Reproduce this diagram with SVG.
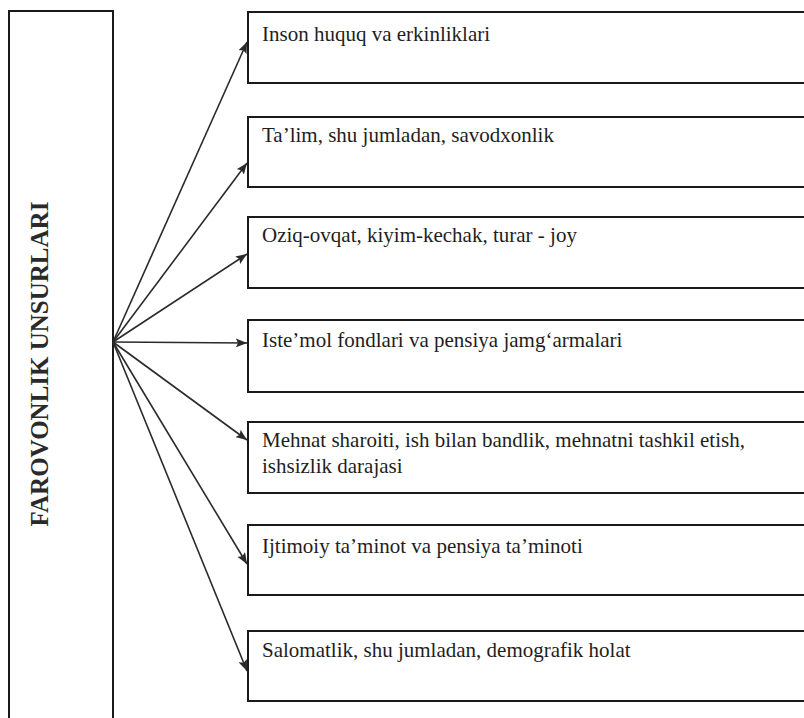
<svg xmlns="http://www.w3.org/2000/svg" width="804" height="718" viewBox="0 0 804 718">
  <defs>
    <style>
      .box { fill: #ffffff; stroke: #1a1a1a; stroke-width: 2; }
      .lbl { font-family: "Liberation Serif", "Times New Roman", serif; font-size: 21px; fill: #1e1e1e; }
      .title { font-family: "Liberation Serif", "Times New Roman", serif; font-size: 25px; font-weight: bold; fill: #2a2a2a; }
      .conn { stroke: #2a2a2a; stroke-width: 1.6; fill: none; marker-end: url(#arr); }
    </style>
    <marker id="arr" viewBox="0 0 10 8" refX="10" refY="4" markerWidth="7" markerHeight="5.6" orient="auto" markerUnits="strokeWidth">
      <path d="M0,0 L10,4 L0,8 L2,4 Z" fill="#2a2a2a"/>
    </marker>
  </defs>
  <rect width="804" height="718" fill="#ffffff"/>

  <g id="main">
    <rect class="box" x="9" y="11" width="104" height="720"/>
    <text class="title" transform="translate(48,364) rotate(-90)" text-anchor="middle">FAROVONLIK UNSURLARI</text>
  </g>

  <g id="n1">
    <rect class="box" x="248" y="12" width="570" height="71"/>
    <text class="lbl" x="262" y="41">Inson huquq va erkinliklari</text>
  </g>
  <g id="n2">
    <rect class="box" x="248" y="117" width="570" height="70"/>
    <text class="lbl" x="262" y="142">Ta’lim, shu jumladan, savodxonlik</text>
  </g>
  <g id="n3">
    <rect class="box" x="248" y="217" width="570" height="71"/>
    <text class="lbl" x="262" y="242">Oziq-ovqat, kiyim-kechak, turar - joy</text>
  </g>
  <g id="n4">
    <rect class="box" x="248" y="320" width="570" height="72"/>
    <text class="lbl" x="262" y="347">Iste’mol fondlari va pensiya jamg‘armalari</text>
  </g>
  <g id="n5">
    <rect class="box" x="248" y="422" width="570" height="71"/>
    <text class="lbl" x="262" y="447">Mehnat sharoiti, ish bilan bandlik, mehnatni tashkil etish,</text>
    <text class="lbl" x="262" y="473">ishsizlik darajasi</text>
  </g>
  <g id="n6">
    <rect class="box" x="248" y="525" width="570" height="70"/>
    <text class="lbl" x="262" y="553">Ijtimoiy ta’minot va pensiya ta’minoti</text>
  </g>
  <g id="n7">
    <rect class="box" x="248" y="631" width="570" height="70"/>
    <text class="lbl" x="262" y="657">Salomatlik, shu jumladan, demografik holat</text>
  </g>

  <g id="connectors">
    <line class="conn" x1="113" y1="342" x2="247" y2="42"/>
    <line class="conn" x1="113" y1="342" x2="247" y2="163"/>
    <line class="conn" x1="113" y1="342" x2="247" y2="254"/>
    <line class="conn" x1="113" y1="342" x2="247" y2="343"/>
    <line class="conn" x1="113" y1="342" x2="247" y2="440"/>
    <line class="conn" x1="113" y1="342" x2="247" y2="564"/>
    <line class="conn" x1="113" y1="342" x2="247" y2="671"/>
  </g>
</svg>
